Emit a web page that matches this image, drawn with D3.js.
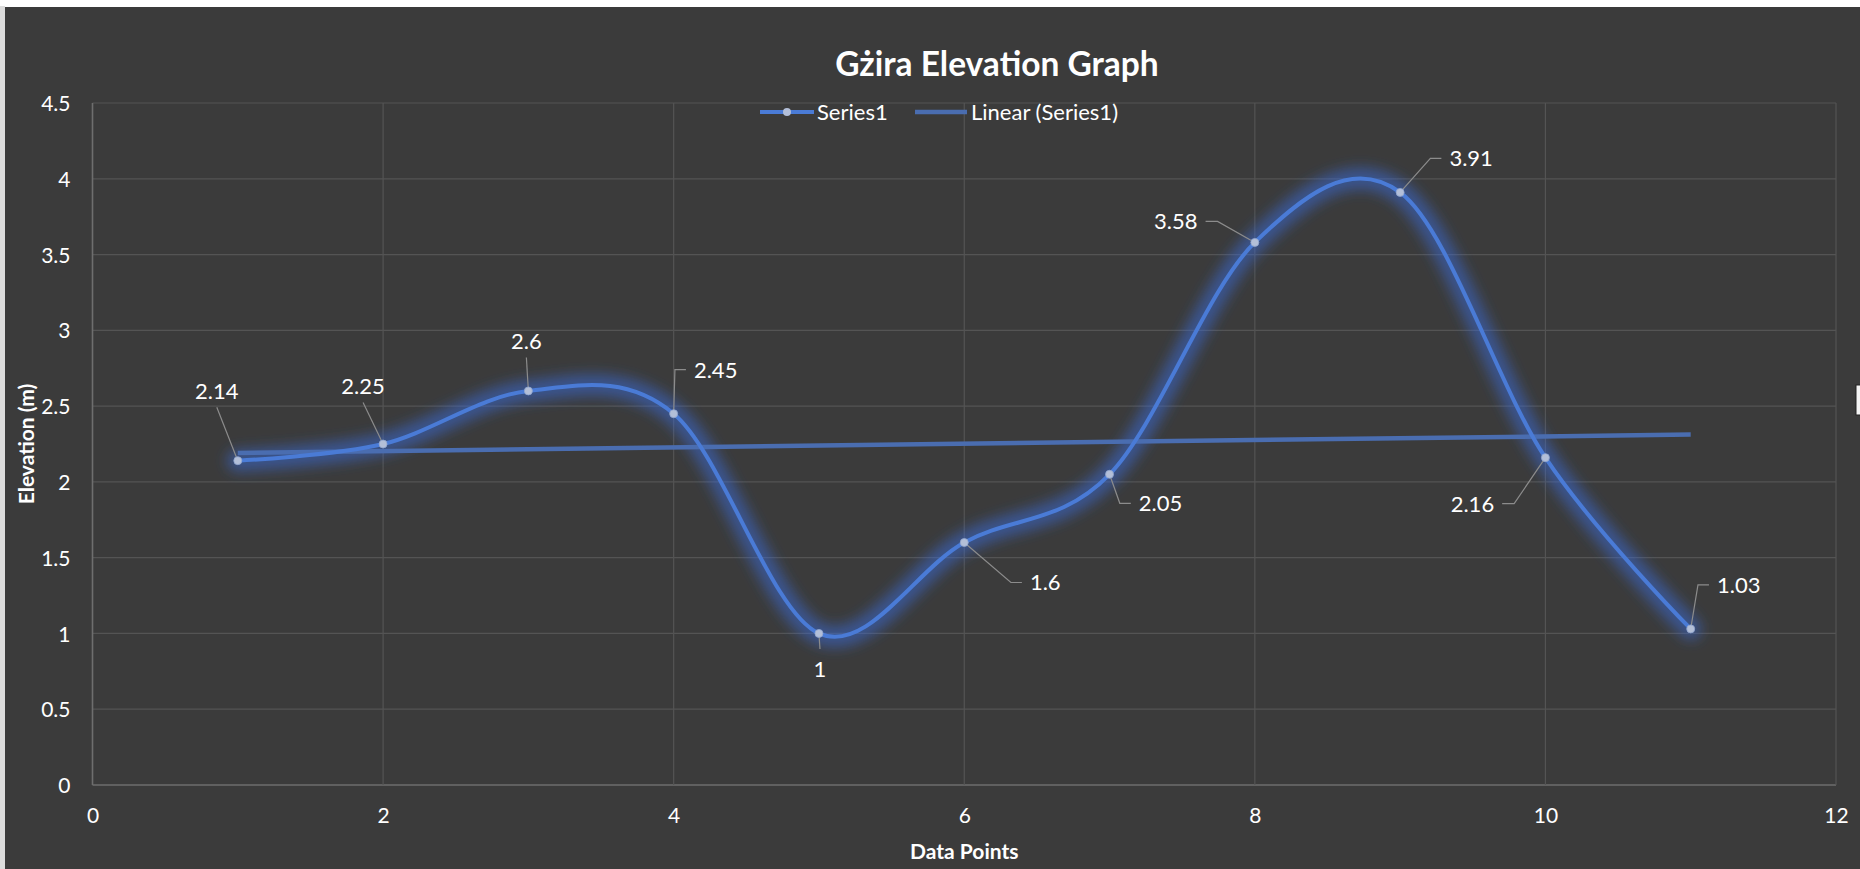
<!DOCTYPE html>
<html>
<head>
<meta charset="utf-8">
<script src="https://cdn.jsdelivr.net/npm/d3@7/dist/d3.min.js"></script>
<style>
  html, body { margin: 0; padding: 0; background: #ffffff; }
  svg { display: block; }
  text { font-family: Lato, "Open Sans", sans-serif; }
</style>
</head>
<body>
<svg id="chart" width="1860" height="869"></svg>
<script>
// Elevation readings along the survey
const pointIndex = [1, 2, 3, 4, 5, 6, 7, 8, 9, 10, 11];
const elevation  = [2.14, 2.25, 2.6, 2.45, 1, 1.6, 2.05, 3.58, 3.91, 2.16, 1.03];
const xTicks = [0, 2, 4, 6, 8, 10, 12];
const yTicks = [0, 0.5, 1, 1.5, 2, 2.5, 3, 3.5, 4, 4.5];
const seriesNames = ["Series1", "Linear (Series1)"];
const chartTitle = "Gżira Elevation Graph";
const xTitle = "Data Points";
const yTitle = "Elevation (m)";

// Label placement per point: offset of label centre from the point, and which side the leader attaches
const labelLayout = [
  { dx: -21, dy: -70, side: "bottom" },
  { dx: -20, dy: -58, side: "bottom" },
  { dx: -2,  dy: -50, side: "bottom" },
  { dx: 42,  dy: -44, side: "left" },
  { dx: 1,   dy: 36,  side: "top" },
  { dx: 81,  dy: 40,  side: "left" },
  { dx: 51,  dy: 29,  side: "left" },
  { dx: -79, dy: -21, side: "right" },
  { dx: 71,  dy: -34, side: "left" },
  { dx: -73, dy: 46,  side: "right" },
  { dx: 48,  dy: -44, side: "left" }
];

const W = 1860, H = 869;
const plot = { left: 92.5, right: 1836, top: 103, bottom: 785 };

const colors = {
  page: "#3b3b3b",
  grid: "#545454",
  axis: "#6e6e6e",
  text: "#ffffff",
  series: "#4a7bd6",
  glow: "#3a6ad4",
  trend: "#4a6db0",
  marker: "#b3bfd8",
  leader: "#8c8c8c"
};

const svg = d3.select("#chart");

// outer frame
svg.append("rect").attr("x", 0).attr("y", 0).attr("width", W).attr("height", H).attr("fill", "#ffffff");
svg.append("rect").attr("x", 0).attr("y", 6).attr("width", 5).attr("height", H - 6).attr("fill", "#dcdcdc");
svg.append("rect").attr("x", 5).attr("y", 7).attr("width", W - 5).attr("height", H - 7).attr("fill", colors.page);

const defs = svg.append("defs");
const glow = defs.append("filter").attr("id", "glow")
  .attr("x", "-10%").attr("y", "-20%").attr("width", "120%").attr("height", "140%");
glow.append("feGaussianBlur").attr("stdDeviation", 6.5);

const x = d3.scaleLinear().domain([0, 12]).range([plot.left, plot.right]);
const y = d3.scaleLinear().domain([0, 4.5]).range([plot.bottom, plot.top]);

// gridlines
const grid = svg.append("g");
grid.selectAll(".hg").data(yTicks).join("line")
  .attr("x1", plot.left).attr("x2", plot.right)
  .attr("y1", d => y(d)).attr("y2", d => y(d))
  .attr("stroke", d => d === 0 ? colors.axis : colors.grid)
  .attr("stroke-width", d => d === 0 ? 1.6 : 1.2);
grid.selectAll(".vg").data(xTicks).join("line")
  .attr("x1", d => x(d)).attr("x2", d => x(d))
  .attr("y1", plot.top).attr("y2", plot.bottom)
  .attr("stroke", d => d === 0 ? colors.axis : colors.grid)
  .attr("stroke-width", d => d === 0 ? 1.6 : 1.2);

// axes (labels only, the lines are the gridlines above)
const yAxis = d3.axisLeft(y).tickValues(yTicks).tickSize(0).tickPadding(0).tickFormat(d3.format("~g"));
const gy = svg.append("g").attr("transform", `translate(${plot.left - 22},0)`).call(yAxis);
gy.select(".domain").remove();
gy.selectAll("text").attr("fill", colors.text).attr("font-size", 21).attr("font-family", "Lato").attr("dy", "0.36em");

const xAxis = d3.axisBottom(x).tickValues(xTicks).tickSize(0).tickPadding(0).tickFormat(d3.format("~g"));
const gx = svg.append("g").attr("transform", `translate(0,${plot.bottom + 23})`).call(xAxis);
gx.select(".domain").remove();
gx.selectAll("text").attr("fill", colors.text).attr("font-size", 21).attr("font-family", "Lato").attr("dy", "0.72em");

// axis titles
svg.append("text").attr("x", (plot.left + plot.right) / 2).attr("y", 859)
  .attr("text-anchor", "middle").attr("fill", colors.text)
  .attr("font-size", 21).attr("font-weight", 700).text(xTitle);
svg.append("text")
  .attr("transform", `translate(34,${(plot.top + plot.bottom) / 2}) rotate(-90)`)
  .attr("text-anchor", "middle").attr("fill", colors.text)
  .attr("font-size", 21).attr("font-weight", 700).text(yTitle);

// chart title
svg.append("text").attr("x", 997).attr("y", 76).attr("text-anchor", "middle")
  .attr("fill", colors.text).attr("font-size", 33.5).attr("font-weight", 700).text(chartTitle);

const pts = pointIndex.map((d, i) => ({ x: d, y: elevation[i] }));

// least-squares trend
const mx = d3.mean(pts, d => d.x), my = d3.mean(pts, d => d.y);
const slope = d3.sum(pts, d => (d.x - mx) * (d.y - my)) / d3.sum(pts, d => (d.x - mx) ** 2);
const intercept = my - slope * mx;
const trendPts = [d3.min(pointIndex), d3.max(pointIndex)].map(v => ({ x: v, y: intercept + slope * v }));

const smooth = d3.line().x(d => x(d.x)).y(d => y(d.y)).curve(d3.curveCardinal.tension(0));
const straight = d3.line().x(d => x(d.x)).y(d => y(d.y));

// glow behind the series
svg.append("path").datum(pts).attr("d", smooth)
  .attr("fill", "none").attr("stroke", colors.glow).attr("stroke-width", 22)
  .attr("stroke-opacity", 0.55).attr("stroke-linecap", "round").attr("filter", "url(#glow)");

// trendline
svg.append("path").datum(trendPts).attr("d", straight)
  .attr("fill", "none").attr("stroke", colors.trend).attr("stroke-width", 4.5);

// series line
svg.append("path").datum(pts).attr("d", smooth)
  .attr("fill", "none").attr("stroke", colors.series).attr("stroke-width", 4)
  .attr("stroke-linecap", "round");

// leader lines and labels
const fmt = d3.format("~g");
const labels = svg.append("g");
pts.forEach((p, i) => {
  const L = labelLayout[i];
  const px = x(p.x), py = y(p.y);
  const cx = px + L.dx, cy = py + L.dy;
  const t = labels.append("text").attr("x", cx).attr("y", cy).attr("dy", "0.36em")
    .attr("text-anchor", "middle").attr("fill", colors.text)
    .attr("font-size", 22).text(fmt(p.y));
  const w = t.node().getComputedTextLength();
  const h = 17;
  let path;
  if (L.side === "left") {
    const stubEnd = cx - w / 2 - 8;
    path = [[px, py], [stubEnd - 11, cy], [stubEnd, cy]];
  } else if (L.side === "right") {
    const stubEnd = cx + w / 2 + 8;
    path = [[px, py], [stubEnd + 12, cy], [stubEnd, cy]];
  } else if (L.side === "bottom") {
    path = [[px, py], [cx, cy + h / 2 + 8]];
  } else {
    path = [[px, py], [cx, cy - h / 2 - 12]];
  }
  labels.insert("path", "text").attr("d", d3.line()(path))
    .attr("fill", "none").attr("stroke", colors.leader).attr("stroke-width", 1.2);
});

// markers
svg.append("g").selectAll("circle").data(pts).join("circle")
  .attr("cx", d => x(d.x)).attr("cy", d => y(d.y)).attr("r", 4)
  .attr("fill", colors.marker).attr("stroke", "#8fa4cf").attr("stroke-width", 0.8);

// legend
const lg = svg.append("g");
const ly = 112;
lg.append("line").attr("x1", 760).attr("x2", 814).attr("y1", ly).attr("y2", ly)
  .attr("stroke", colors.series).attr("stroke-width", 4);
lg.append("circle").attr("cx", 787).attr("cy", ly).attr("r", 4).attr("fill", colors.marker);
lg.append("text").attr("x", 817).attr("y", ly).attr("dy", "0.36em").attr("fill", colors.text)
  .attr("font-size", 22).text(seriesNames[0]);
lg.append("line").attr("x1", 915).attr("x2", 967).attr("y1", ly).attr("y2", ly)
  .attr("stroke", colors.trend).attr("stroke-width", 4.5);
lg.append("text").attr("x", 971).attr("y", ly).attr("dy", "0.36em").attr("fill", colors.text)
  .attr("font-size", 22).text(seriesNames[1]);

// small window handle at the right edge
svg.append("rect").attr("x", 1856).attr("y", 385).attr("width", 6).attr("height", 30)
  .attr("fill", "#f4f4f4").attr("stroke", "#222").attr("stroke-width", 1);
</script>
</body>
</html>
